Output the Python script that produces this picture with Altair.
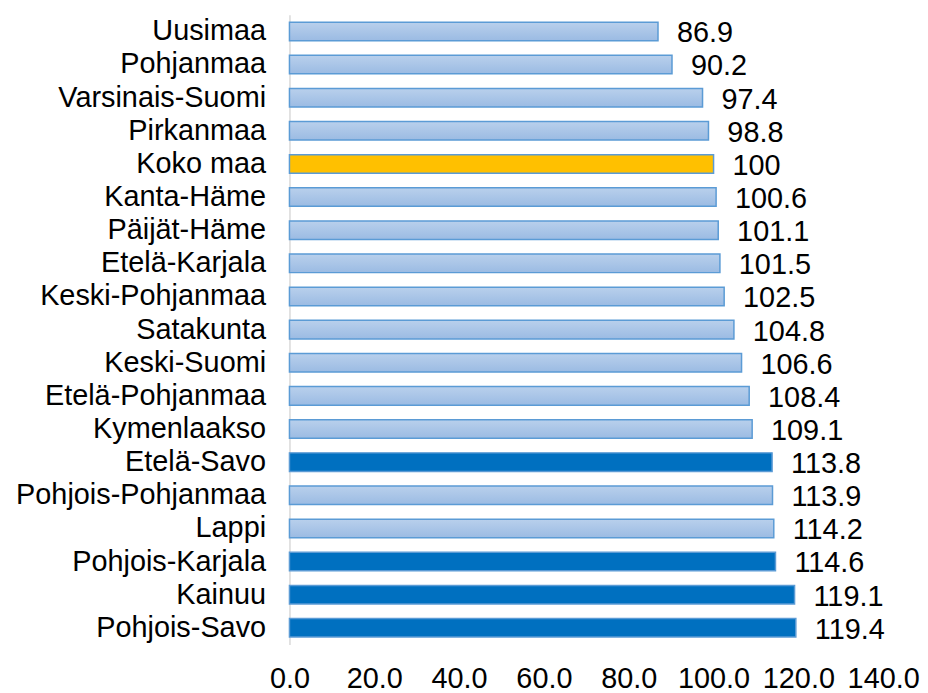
import altair as alt
import pandas as pd

regions = ["Uusimaa", "Pohjanmaa", "Varsinais-Suomi", "Pirkanmaa", "Koko maa",
           "Kanta-Häme", "Päijät-Häme", "Etelä-Karjala", "Keski-Pohjanmaa",
           "Satakunta", "Keski-Suomi", "Etelä-Pohjanmaa", "Kymenlaakso",
           "Etelä-Savo", "Pohjois-Pohjanmaa", "Lappi", "Pohjois-Karjala",
           "Kainuu", "Pohjois-Savo"]
values = [86.9, 90.2, 97.4, 98.8, 100, 100.6, 101.1, 101.5, 102.5, 104.8,
          106.6, 108.4, 109.1, 113.8, 113.9, 114.2, 114.6, 119.1, 119.4]
groups = ["light", "light", "light", "light", "total", "light", "light",
          "light", "light", "light", "light", "light", "light", "dark",
          "light", "light", "dark", "dark", "dark"]
labels = [f"{v:g}" for v in values]
x_ticks = [0, 20, 40, 60, 80, 100, 120, 140]

df = pd.DataFrame({"region": regions, "value": values, "group": groups, "label": labels})

FONT = "Liberation Sans"
FS = 29

base = alt.Chart(df).encode(
    y=alt.Y("region:N", sort=regions, title=None,
            scale=alt.Scale(paddingInner=0.44, paddingOuter=0.22),
            axis=alt.Axis(ticks=False, domain=True, domainColor="#d9d9d9",
                          domainWidth=1.5, labelFont=FONT, labelFontSize=FS,
                          labelColor="#000000", labelPadding=24, labelLimit=400)),
    x=alt.X("value:Q", title=None,
            scale=alt.Scale(domain=[0, 140], nice=False),
            axis=alt.Axis(values=x_ticks, format=".1f", ticks=False, domain=False,
                          grid=False, labelFont=FONT, labelFontSize=FS,
                          labelColor="#000000", labelPadding=20,
                          labelFlush=False, labelOverlap=False)),
)

light_grad = alt.Gradient(
    gradient="linear",
    stops=[alt.GradientStop(offset=0, color="#b9d0ec"),
           alt.GradientStop(offset=1, color="#9bbbe3")],
    x1=0, x2=0, y1=0, y2=1)

light = base.transform_filter(alt.datum.group == "light").mark_bar(
    fill=light_grad, stroke="#5b9bd5", strokeWidth=1.5)
dark = base.transform_filter(alt.datum.group == "dark").mark_bar(
    fill="#0070c0", stroke="#5b9bd5", strokeWidth=1.5)
total = base.transform_filter(alt.datum.group == "total").mark_bar(
    fill="#ffc000", stroke="#5b9bd5", strokeWidth=1.5)

text = base.mark_text(align="left", baseline="middle", dx=19, dy=2,
                      font=FONT, fontSize=FS, color="#000000").encode(
    text="label:N")

chart = alt.layer(light, dark, total, text).properties(
    width=597, height=633,
    background="#ffffff",
    autosize=alt.AutoSizeParams(type="none"),
    padding={"left": 283, "top": 5, "right": 37, "bottom": 47},
).configure_view(strokeWidth=0, stroke=None)

chart.save("out.html", embed_options={"renderer": "svg", "actions": False})
